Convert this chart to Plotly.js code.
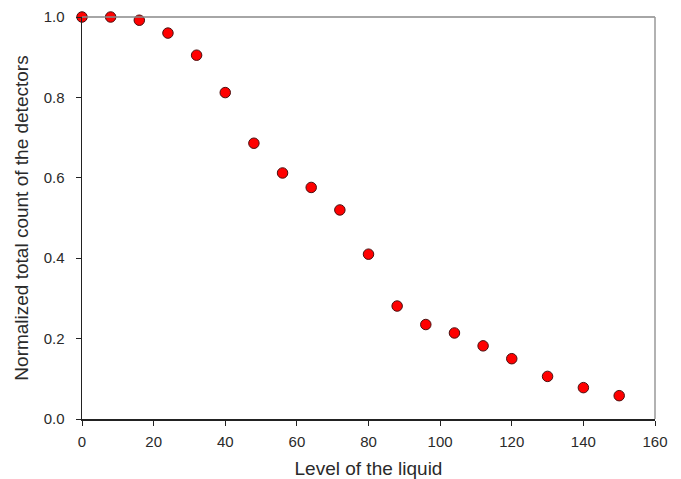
<!DOCTYPE html>
<html><head><meta charset="utf-8">
<script src="https://cdn.plot.ly/plotly-3.0.1.min.js"></script>
<style>html,body{margin:0;padding:0;background:#fff}#chart{width:681px;height:479px}</style>
</head><body><div id="chart"></div>
<script>
const levels = [0, 8, 16, 24, 32, 40, 48, 56, 64, 72, 80, 88, 96, 104, 112, 120, 130, 140, 150];
const normCounts = [1.0, 1.0, 0.992, 0.960, 0.905, 0.812, 0.686, 0.612, 0.576, 0.520, 0.410, 0.281, 0.235, 0.214, 0.182, 0.150, 0.106, 0.078, 0.058];
const xTicks = [0, 20, 40, 60, 80, 100, 120, 140, 160];
const yTicks = [0, 0.2, 0.4, 0.6, 0.8, 1.0];

const trace = {
  x: levels, y: normCounts, type: 'scatter', mode: 'markers',
  marker: {size: 10.5, color: '#ff0000', line: {color: '#4a1010', width: 1}},
  cliponaxis: false, hoverinfo: 'x+y'
};
const layout = {
  width: 681, height: 479,
  margin: {l: 82, r: 26, t: 17, b: 60},
  paper_bgcolor: '#fff', plot_bgcolor: '#fff',
  font: {family: 'Liberation Sans, Arial, sans-serif', color: '#2a2a2a', size: 15},
  showlegend: false,
  xaxis: {range: [0, 160], tickvals: xTicks, ticktext: xTicks.map(String),
    showgrid: false, zeroline: false, showline: true, linecolor: '#222', linewidth: 1.5,
    ticks: 'outside', ticklen: 5, tickcolor: '#222', tickwidth: 1, ticklabelstandoff: 3,
    automargin: false,
    title: {text: 'Level of the liquid', font: {size: 19, color: '#2a2a2a'}, standoff: 14}},
  yaxis: {range: [0, 1], tickvals: yTicks, ticktext: yTicks.map(v => v.toFixed(1)),
    showgrid: false, zeroline: false, showline: true, linecolor: '#222', linewidth: 1.5,
    ticks: 'outside', ticklen: 5, tickcolor: '#222', tickwidth: 1, ticklabelstandoff: 8,
    automargin: false,
    title: {text: 'Normalized total count of the detectors', font: {size: 19, color: '#2a2a2a'}, standoff: 10}},
  shapes: [
    {type: 'line', xref: 'paper', yref: 'paper', x0: 0, x1: 1, y0: 1, y1: 1, line: {color: '#888', width: 1.5}},
    {type: 'line', xref: 'paper', yref: 'paper', x0: 1, x1: 1, y0: 0, y1: 1, line: {color: '#999', width: 1.5}}
  ]
};
Plotly.newPlot('chart', [trace], layout, {displayModeBar: false, staticPlot: true});
</script></body></html>
